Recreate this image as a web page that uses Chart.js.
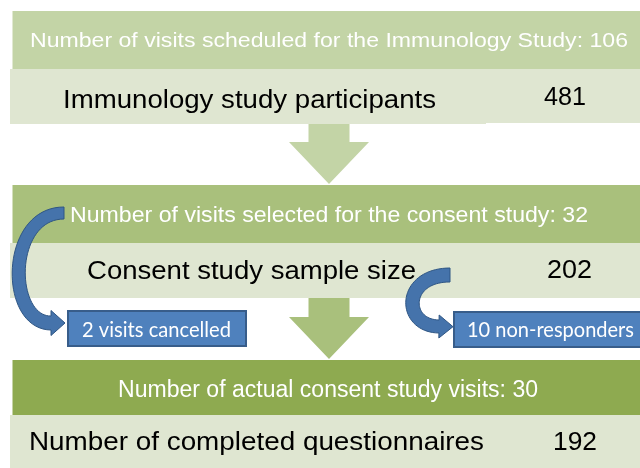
<!DOCTYPE html>
<html>
<head>
<meta charset="utf-8">
<script src="https://cdn.jsdelivr.net/npm/chart.js@4/dist/chart.umd.min.js"></script>
<style>
  html, body { margin: 0; padding: 0; background: #fff; }
  #flow { display: block; }
</style>
</head>
<body>
<canvas id="flow" width="640" height="468"></canvas>
<script>
/* ---------- data ---------- */
const stages = ['Immunology study', 'Consent study', 'Actual visits'];
const headerLabels = [
  'Number of visits scheduled for the Immunology Study',
  'Number of visits selected for the consent study',
  'Number of actual consent study visits'
];
const visitCounts = [106, 32, 30];
const rowLabels = [
  'Immunology study participants',
  'Consent study sample size',
  'Number of completed questionnaires'
];
const participantCounts = [481, 202, 192];
const lossLabels = ['visits cancelled', 'non-responders'];
const lossCounts = [2, 10];

/* ---------- layout (value units = pixels of the 640x468 frame) ---------- */
const headerColors = ['#c3d4a6', '#a9c07c', '#8eaa50'];
const rowColor = '#dfe6d1';
const bands = [
  { header: [12.5, 11, 640, 69], row: [10, 69, 640, 124], text: [329, 46.5, 598, 20.5],
    label: [249.5, 108, 373], num: [565, 105, 42] },
  { header: [12.5, 185, 640, 243], row: [10, 243, 640, 298], text: [329, 221.5, 518, 22],
    label: [251.5, 279, 329], num: [569.5, 278, 45] },
  { header: [12.5, 360, 640, 415], row: [10, 415, 640, 468], text: [328, 397, 420, 23],
    label: [256.5, 450, 455], num: [575, 450, 44] }
];
const downArrows = [
  { x: 329, top: 124, neck: 142, tip: 184, shaft: 20.5, head: 40, color: headerColors[0] },
  { x: 329, top: 298, neck: 317, tip: 359, shaft: 20.5, head: 40, color: headerColors[1] }
];
const lossBoxes = [
  { box: [67, 310, 247, 347], text: [156.5, 337, 149],
    curve: [[64, 213], [6, 213], [6, 323], [51, 323]], w0: 12, w1: 14, half: 12.5, len: 14 },
  { box: [453, 311, 642, 348], text: [550.5, 337, 167],
    curve: [[450, 275], [402, 275], [402, 326], [439, 326.5]], w0: 14, w1: 13, half: 11.5, len: 14 }
];

const SANS = '"Liberation Sans", Arial, sans-serif';
const BOX_FONT = 'Lato, "Open Sans", sans-serif';

function fitText(ctx, str, cx, baseline, width, size, family, color) {
  ctx.save();
  ctx.font = size + 'px ' + family;
  const w = ctx.measureText(str).width;
  ctx.translate(cx, baseline);
  ctx.scale(width / w, 1);
  ctx.fillStyle = color;
  ctx.textAlign = 'center';
  ctx.textBaseline = 'alphabetic';
  ctx.fillText(str, 0, 0);
  ctx.restore();
}

const flowPlugin = {
  id: 'flow',
  afterDraw(chart) {
    const { ctx } = chart;
    const X = v => chart.scales.x.getPixelForValue(v);
    const Y = v => chart.scales.y.getPixelForValue(v);
    const rect = (r, color) => {
      ctx.fillStyle = color;
      ctx.fillRect(X(r[0]), Y(r[1]), X(r[2]) - X(r[0]), Y(r[3]) - Y(r[1]));
    };

    ctx.save();
    ctx.fillStyle = '#fff';
    ctx.fillRect(0, 0, chart.width, chart.height);

    // green down arrows
    downArrows.forEach(a => {
      ctx.fillStyle = a.color;
      ctx.beginPath();
      ctx.moveTo(X(a.x - a.shaft), Y(a.top));
      ctx.lineTo(X(a.x + a.shaft), Y(a.top));
      ctx.lineTo(X(a.x + a.shaft), Y(a.neck));
      ctx.lineTo(X(a.x + a.head), Y(a.neck));
      ctx.lineTo(X(a.x), Y(a.tip));
      ctx.lineTo(X(a.x - a.head), Y(a.neck));
      ctx.lineTo(X(a.x - a.shaft), Y(a.neck));
      ctx.closePath();
      ctx.fill();
    });

    // header bands and rows
    stages.forEach((s, i) => {
      const b = bands[i];
      rect(b.row, rowColor);
      if (i === 0) rect([486, 123, 640, 124], '#fff');
      rect(b.header, headerColors[i]);
      const t = b.text;
      fitText(ctx, headerLabels[i] + ': ' + visitCounts[i], X(t[0]), Y(t[1]), t[2], t[3], SANS, '#fff');
      fitText(ctx, rowLabels[i], X(b.label[0]), Y(b.label[1]), b.label[2], 25.5, SANS, '#000');
      fitText(ctx, String(participantCounts[i]), X(b.num[0]), Y(b.num[1]), b.num[2], 25.5, SANS, '#000');
    });

    // loss boxes with curved arrows
    lossBoxes.forEach((l, i) => {
      const r = l.box;
      ctx.fillStyle = '#4f81bd';
      ctx.fillRect(X(r[0]), Y(r[1]), X(r[2]) - X(r[0]), Y(r[3]) - Y(r[1]));
      ctx.strokeStyle = '#385d8a';
      ctx.lineWidth = 2;
      ctx.strokeRect(X(r[0]) + 1, Y(r[1]) + 1, X(r[2]) - X(r[0]) - 2, Y(r[3]) - Y(r[1]) - 2);
      fitText(ctx, lossCounts[i] + ' ' + lossLabels[i], X(l.text[0]), Y(l.text[1]), l.text[2], 21, BOX_FONT, '#fff');

      // curved arrow built along a cubic curve
      const P = l.curve.map(p => [X(p[0]), Y(p[1])]);
      const N = 40, left = [], right = [];
      let end = null, dir = null, nrm = null;
      for (let k = 0; k <= N; k++) {
        const t = k / N, u = 1 - t;
        const px = u*u*u*P[0][0] + 3*u*u*t*P[1][0] + 3*u*t*t*P[2][0] + t*t*t*P[3][0];
        const py = u*u*u*P[0][1] + 3*u*u*t*P[1][1] + 3*u*t*t*P[2][1] + t*t*t*P[3][1];
        let dx = 3*u*u*(P[1][0]-P[0][0]) + 6*u*t*(P[2][0]-P[1][0]) + 3*t*t*(P[3][0]-P[2][0]);
        let dy = 3*u*u*(P[1][1]-P[0][1]) + 6*u*t*(P[2][1]-P[1][1]) + 3*t*t*(P[3][1]-P[2][1]);
        const len = Math.hypot(dx, dy) || 1;
        dx /= len; dy /= len;
        const w = (l.w0 + (l.w1 - l.w0) * t) / 2;
        left.push([px - dy * w, py + dx * w]);
        right.push([px + dy * w, py - dx * w]);
        if (k === N) { end = [px, py]; dir = [dx, dy]; nrm = [-dy, dx]; }
      }
      ctx.beginPath();
      ctx.moveTo(left[0][0], left[0][1]);
      left.forEach(p => ctx.lineTo(p[0], p[1]));
      ctx.lineTo(end[0] + nrm[0] * l.half, end[1] + nrm[1] * l.half);
      ctx.lineTo(end[0] + dir[0] * l.len, end[1] + dir[1] * l.len);
      ctx.lineTo(end[0] - nrm[0] * l.half, end[1] - nrm[1] * l.half);
      for (let k = right.length - 1; k >= 0; k--) ctx.lineTo(right[k][0], right[k][1]);
      ctx.closePath();
      ctx.fillStyle = '#4573ab';
      ctx.fill();
      ctx.strokeStyle = '#2f5684';
      ctx.lineWidth = 1;
      ctx.stroke();
    });
    ctx.restore();
  }
};

new Chart(document.getElementById('flow'), {
  type: 'bar',
  data: { labels: stages, datasets: [] },
  options: {
    responsive: false,
    animation: false,
    layout: { padding: 0 },
    plugins: { legend: { display: false }, tooltip: { enabled: false } },
    scales: {
      x: { type: 'linear', min: 0, max: 640, offset: false, display: false },
      y: { type: 'linear', min: 0, max: 468, offset: false, reverse: true, display: false }
    }
  },
  plugins: [flowPlugin]
});
</script>
</body>
</html>
